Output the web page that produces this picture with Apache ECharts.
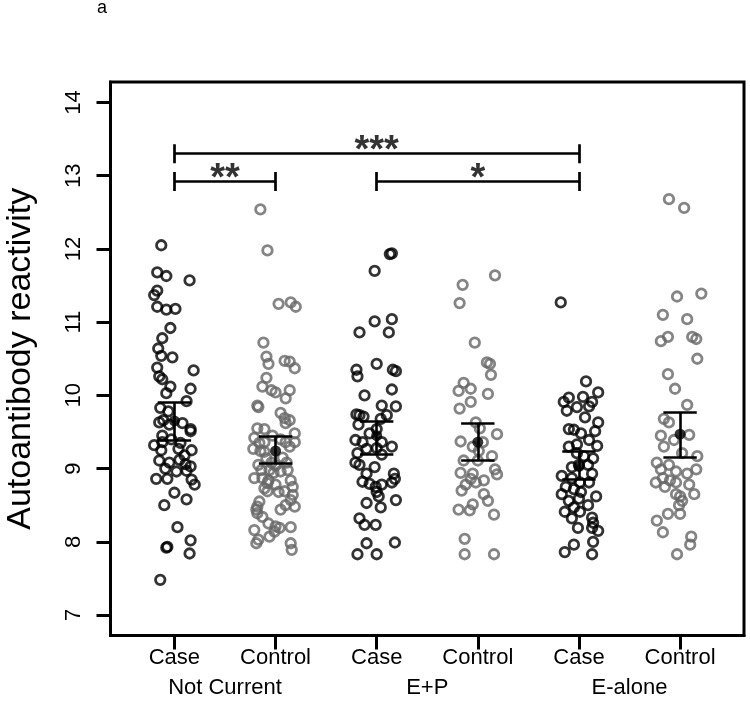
<!DOCTYPE html>
<html><head><meta charset="utf-8">
<script src="https://cdn.jsdelivr.net/npm/echarts@6/dist/echarts.min.js"></script>
<style>html,body{margin:0;padding:0;background:#fff}#chart{width:750px;height:702px}</style>
</head><body><div id="chart"></div>
<script>
// ---------- data ----------
const categories = ['Case', 'Control', 'Case', 'Control', 'Case', 'Control'];
const groupLabels = ['Not Current', 'E+P', 'E-alone'];
const groupLabelPos = [1.5, 3.5, 5.5];
const yTicks = [7, 8, 9, 10, 11, 12, 13, 14];
const xTicks = [1, 2, 3, 4, 5, 6];

// each point: [jitter offset from group position, autoantibody reactivity]
const ncCase = [[-0.13,12.05],[-0.17,11.68],[-0.08,11.63],[0.15,11.57],[-0.17,11.43],[-0.20,11.37],[-0.17,11.21],[-0.08,11.17],[0.01,11.18],[-0.04,10.92],[-0.12,10.78],[-0.16,10.64],[-0.13,10.54],[-0.02,10.52],[-0.17,10.38],[0.19,10.34],[-0.15,10.26],[-0.12,10.22],[-0.04,10.12],[0.16,10.09],[-0.08,10.03],[0.12,9.92],[-0.14,9.83],[-0.06,9.78],[0.16,9.54],[-0.15,9.63],[-0.11,9.66],[0.16,9.51],[-0.20,9.32],[-0.12,9.36],[-0.13,9.25],[0.04,9.27],[0.17,9.25],[-0.15,9.11],[-0.05,9.08],[0.05,9.12],[0.11,9.06],[0.16,9.03],[0.02,8.96],[0.12,8.97],[-0.18,8.86],[-0.07,8.86],[0.17,8.85],[0.20,8.78],[0.00,8.67],[0.12,8.58],[-0.10,8.50],[0.03,8.20],[-0.07,7.93],[-0.08,7.92],[0.16,8.02],[0.15,7.84],[-0.14,7.48],[-0.05,9.60],[0.08,9.62],[-0.12,9.45],[-0.03,9.40],[0.06,9.35],[0.10,9.18],[-0.09,9.00]];
const ncControl = [[-0.15,12.54],[-0.08,11.98],[0.03,11.25],[0.15,11.27],[0.20,11.21],[-0.12,10.72],[-0.09,10.53],[-0.07,10.43],[0.09,10.47],[0.14,10.46],[0.19,10.37],[-0.09,10.24],[-0.13,10.12],[-0.04,10.07],[0.00,10.04],[0.14,10.07],[0.10,9.96],[-0.18,9.86],[-0.17,9.84],[0.05,9.76],[0.09,9.69],[0.14,9.66],[-0.18,9.55],[-0.11,9.54],[0.10,9.62],[0.19,9.48],[-0.21,9.42],[-0.11,9.36],[0.10,9.36],[0.19,9.36],[-0.16,9.35],[-0.22,9.27],[-0.15,9.24],[-0.11,9.23],[-0.09,9.14],[-0.04,9.08],[0.00,9.04],[0.11,9.08],[0.05,9.40],[-0.03,9.45],[0.14,9.30],[0.07,9.15],[-0.17,9.05],[-0.14,8.98],[-0.06,8.98],[0.05,8.96],[0.12,8.98],[-0.02,8.94],[-0.13,8.87],[-0.21,8.87],[-0.07,8.84],[0.15,8.84],[-0.08,8.80],[0.00,8.78],[0.17,8.75],[-0.11,8.73],[-0.08,8.69],[0.09,8.69],[0.03,8.68],[0.17,8.64],[0.15,8.57],[0.19,8.48],[-0.16,8.55],[-0.18,8.48],[0.05,8.44],[-0.19,8.44],[-0.18,8.39],[-0.13,8.34],[0.10,8.50],[-0.07,8.25],[0.00,8.21],[0.04,8.19],[-0.01,8.14],[-0.06,8.07],[-0.21,8.16],[-0.17,8.03],[-0.19,7.98],[0.15,8.20],[0.15,7.98],[0.16,7.89]];
const epCase = [[0.13,11.93],[0.15,11.94],[-0.02,11.70],[-0.02,11.01],[0.15,11.04],[-0.17,10.86],[0.12,10.86],[0.00,10.43],[-0.20,10.35],[-0.19,10.26],[0.16,10.35],[0.19,10.33],[-0.12,10.00],[0.15,10.08],[0.05,9.86],[0.19,9.85],[-0.17,9.73],[-0.20,9.74],[-0.13,9.71],[0.10,9.73],[0.04,9.68],[-0.18,9.60],[0.00,9.54],[-0.07,9.48],[-0.21,9.39],[-0.14,9.36],[0.05,9.36],[-0.10,9.27],[0.00,9.28],[0.15,9.30],[-0.19,9.21],[0.05,9.19],[-0.21,9.08],[-0.17,9.05],[-0.02,9.02],[-0.10,8.93],[0.17,8.93],[-0.14,8.82],[-0.07,8.79],[0.05,8.78],[0.15,8.81],[0.18,8.86],[-0.01,8.75],[0.00,8.68],[0.02,8.62],[0.19,8.57],[-0.10,8.53],[0.04,8.47],[-0.17,8.32],[-0.12,8.23],[-0.01,8.23],[-0.10,7.98],[0.18,7.99],[-0.19,7.83],[0.00,7.83]];
const epControl = [[0.17,11.64],[-0.15,11.51],[-0.18,11.26],[-0.03,10.72],[0.09,10.45],[0.12,10.43],[0.13,10.28],[-0.14,10.17],[-0.07,10.09],[-0.19,10.06],[0.10,10.02],[-0.07,9.91],[-0.18,9.82],[-0.02,9.63],[0.02,9.55],[0.19,9.47],[-0.17,9.37],[-0.05,9.30],[0.05,9.36],[0.01,9.24],[0.14,9.17],[-0.14,9.11],[0.00,9.11],[0.17,8.99],[0.19,8.92],[-0.17,8.94],[-0.05,8.93],[-0.07,8.86],[0.06,8.84],[-0.12,8.78],[-0.02,8.81],[-0.16,8.70],[0.06,8.65],[-0.05,8.51],[-0.19,8.44],[-0.08,8.43],[0.10,8.56],[0.16,8.37],[-0.13,8.04],[-0.13,7.83],[0.16,7.83]];
const eaCase = [[-0.18,11.27],[0.07,10.19],[0.19,10.04],[-0.10,9.97],[0.04,9.98],[-0.15,9.91],[0.13,9.91],[-0.02,9.84],[0.10,9.85],[-0.12,9.79],[0.06,9.70],[-0.05,9.53],[0.19,9.63],[-0.10,9.54],[0.16,9.51],[0.02,9.48],[0.10,9.39],[-0.02,9.33],[-0.10,9.30],[0.18,9.31],[-0.02,9.21],[0.05,9.17],[0.14,9.14],[0.00,9.05],[0.09,9.05],[-0.07,9.02],[-0.17,8.90],[0.13,8.93],[-0.07,8.87],[0.01,8.81],[0.10,8.81],[-0.13,8.75],[-0.05,8.72],[-0.17,8.65],[0.02,8.68],[0.17,8.62],[-0.10,8.56],[0.00,8.59],[-0.05,8.47],[0.09,8.50],[-0.14,8.41],[0.01,8.41],[-0.07,8.32],[0.13,8.33],[0.14,8.26],[-0.01,8.19],[0.19,8.15],[0.13,8.19],[-0.05,7.96],[0.14,8.00],[-0.14,7.86],[0.13,7.83]];
const eaControl = [[-0.11,12.68],[0.04,12.56],[0.21,11.39],[-0.03,11.35],[-0.17,11.10],[0.07,11.04],[-0.19,10.74],[-0.12,10.80],[0.12,10.80],[0.16,10.77],[0.17,10.50],[-0.12,10.29],[-0.05,10.09],[0.07,9.87],[-0.16,9.68],[-0.11,9.63],[-0.19,9.45],[0.09,9.46],[-0.16,9.30],[-0.06,9.39],[0.02,9.21],[0.17,9.17],[-0.23,9.08],[-0.11,9.05],[-0.19,8.99],[-0.04,8.96],[0.07,8.93],[0.16,8.99],[-0.17,8.87],[-0.10,8.84],[-0.24,8.81],[-0.04,8.81],[0.09,8.78],[-0.15,8.75],[0.14,8.65],[0.00,8.62],[0.02,8.56],[-0.01,8.50],[-0.04,8.65],[-0.12,8.38],[0.00,8.38],[-0.23,8.29],[-0.17,8.13],[0.11,8.07],[0.10,7.96],[-0.03,7.83]];

const groups = [ncCase, ncControl, epCase, epControl, eaCase, eaControl];

// group means and error bar limits
const means = [9.65, 9.24, 9.45, 9.36, 9.03, 9.47];
const errLow = [9.39, 9.07, 9.20, 9.11, 8.86, 9.15];
const errHigh = [9.90, 9.44, 9.65, 9.62, 9.23, 9.77];

// significance brackets
const brackets = [
  { from: 1, to: 5, y: 13.30, label: '***' },
  { from: 1, to: 2, y: 12.92, label: '**' },
  { from: 3, to: 5, y: 12.92, label: '*' }
];

// ---------- chart ----------
const FONT = '"Liberation Sans", Arial, Helvetica, sans-serif';
const GRAY = '#666666';
const CAP = 0.165;
const BTICK = 0.13;

const pointSeries = groups.map((g, i) => ({
  type: 'scatter',
  z: 2,
  symbol: 'circle',
  symbolSize: 9.5,
  itemStyle: { color: 'rgba(0,0,0,0)', borderColor: i % 2 === 0 ? '#000' : GRAY, borderWidth: 2.8 },
  data: g.map(p => [i + 1 + p[0], p[1]]),
  silent: true
}));

const errSegs = [];
means.forEach((m, i) => {
  const x = i + 1;
  errSegs.push({ coords: [[x, errLow[i]], [x, errHigh[i]]] });
  errSegs.push({ coords: [[x - CAP, errLow[i]], [x + CAP, errLow[i]]] });
  errSegs.push({ coords: [[x - CAP, errHigh[i]], [x + CAP, errHigh[i]]] });
});

const brSegs = [];
brackets.forEach(b => {
  brSegs.push({ coords: [[b.from, b.y], [b.to, b.y]] });
  brSegs.push({ coords: [[b.from, b.y - BTICK], [b.from, b.y + BTICK]] });
  brSegs.push({ coords: [[b.to, b.y - BTICK], [b.to, b.y + BTICK]] });
});

const option = {
  animation: false,
  backgroundColor: '#fff',
  textStyle: { fontFamily: FONT },
  title: {
    text: 'a', left: 97, top: -1, padding: 0,
    textStyle: { fontSize: 18, fontWeight: 'normal', color: '#000', fontFamily: FONT }
  },
  grid: {
    left: 110.5, right: 6, top: 82, bottom: 66.5,
    containLabel: false, outerBoundsMode: 'none',
    show: true, borderColor: '#000', borderWidth: 3, backgroundColor: 'transparent'
  },
  xAxis: [{
    type: 'value', min: 0.368, max: 6.632, position: 'bottom',
    splitLine: { show: false },
    axisLine: { show: true, lineStyle: { color: '#000', width: 3 } },
    axisTick: { show: true, customValues: xTicks, length: 14, lineStyle: { color: '#000', width: 3 } },
    axisLabel: {
      customValues: xTicks, margin: 11, fontSize: 22, color: '#000', fontFamily: FONT,
      formatter: v => categories[Math.round(v) - 1]
    }
  }, {
    type: 'value', min: 0.368, max: 6.632, position: 'bottom', offset: 0,
    splitLine: { show: false },
    axisLine: { show: false }, axisTick: { show: false },
    axisLabel: {
      customValues: groupLabelPos, margin: 41, fontSize: 22, color: '#000', fontFamily: FONT,
      formatter: v => groupLabels[Math.round((v - 1.5) / 2)]
    }
  }],
  yAxis: {
    type: 'value', min: 6.72, max: 14.28,
    splitLine: { show: false },
    axisLine: { show: true, lineStyle: { color: '#000', width: 3 } },
    axisTick: { show: true, customValues: yTicks, length: 14, lineStyle: { color: '#000', width: 3 } },
    axisLabel: { customValues: yTicks, rotate: 90, margin: 26, fontSize: 22, color: '#000', fontFamily: FONT },
    name: 'Autoantibody reactivity', nameLocation: 'middle', nameGap: 73, nameRotate: 90,
    nameTextStyle: { fontSize: 34, color: '#000', fontFamily: FONT }
  },
  series: [
    ...pointSeries,
    {
      type: 'lines', coordinateSystem: 'cartesian2d', z: 5, silent: true,
      lineStyle: { color: '#000', width: 2.6, opacity: 1 },
      data: errSegs
    },
    {
      type: 'scatter', z: 6, symbol: 'circle', symbolSize: 11, silent: true,
      itemStyle: { color: '#000' },
      data: means.map((m, i) => [i + 1, m])
    },
    {
      type: 'lines', coordinateSystem: 'cartesian2d', z: 5, silent: true,
      lineStyle: { color: '#000', width: 2.7, opacity: 1 },
      data: brSegs
    },
    {
      type: 'scatter', z: 6, symbol: 'circle', symbolSize: 1, silent: true,
      itemStyle: { color: 'rgba(0,0,0,0)' },
      label: {
        show: true, position: 'inside', fontSize: 38, fontWeight: 'bold', color: '#000', fontFamily: FONT,
        formatter: p => brackets[p.dataIndex].label
      },
      data: brackets.map(b => [(b.from + b.to) / 2, b.y + 0.03])
    }
  ]
};

const chart = echarts.init(document.getElementById('chart'));
chart.setOption(option);
</script>
</body></html>
